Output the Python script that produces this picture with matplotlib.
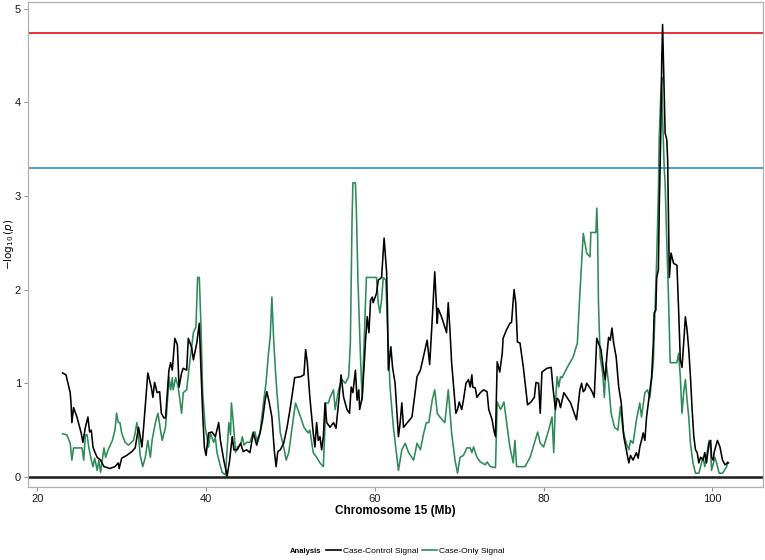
import matplotlib
matplotlib.use("Agg")
import matplotlib.pyplot as plt
from matplotlib.lines import Line2D

plt.rcParams["font.family"] = ["Liberation Sans", "DejaVu Sans"]

# Case-Control signal (black)
cc_mb = [23.0, 23.4, 23.9, 24.0, 24.1, 24.3, 24.7, 25.2, 25.4, 25.7, 26.0, 26.2, 26.4, 26.6, 26.8,
         27.1, 27.5, 27.9, 28.3, 28.6, 29.2, 29.6, 29.7, 30.0, 30.6, 31.2, 31.6, 32.0, 32.2, 32.4,
         32.6, 33.1, 33.5, 33.7, 33.9, 34.2, 34.5, 34.7, 35.0, 35.2, 35.6, 35.8, 36.0, 36.3, 36.6,
         36.8, 37.1, 37.3, 37.7, 37.9, 38.3, 38.5, 38.9, 39.2, 39.4, 39.6, 39.8, 40.0, 40.3, 40.7,
         41.1, 41.5, 41.7, 42.1, 42.5, 42.8, 43.1, 43.3, 43.7, 44.1, 44.4, 44.8, 45.2, 45.6, 46.0,
         46.4, 46.7, 47.0, 47.2, 47.5, 47.8, 48.1, 48.3, 48.5, 48.8, 49.2, 49.6, 50.0, 50.5, 51.2,
         51.6, 51.8, 52.0, 52.3, 52.7, 52.9, 53.1, 53.3, 53.5, 53.7, 53.9, 54.1, 54.3, 54.7, 55.1,
         55.4, 55.7, 56.0, 56.3, 56.7, 57.0, 57.2, 57.4, 57.7, 57.9, 58.1, 58.2, 58.5, 58.7, 58.9,
         59.1, 59.3, 59.5, 59.7, 59.8, 60.2, 60.4, 60.8, 61.1, 61.4, 61.5, 61.6, 61.9, 62.1, 62.4,
         62.8, 63.0, 63.2, 63.4, 64.4, 64.7, 65.0, 65.4, 66.2, 66.5, 66.8, 67.1, 67.4, 67.5, 67.9,
         68.3, 68.5, 68.7, 68.9, 69.1, 69.3, 69.6, 69.8, 70.0, 70.3, 70.5, 70.8, 71.1, 71.3, 71.5,
         71.6, 71.9, 72.1, 72.5, 72.9, 73.3, 73.5, 73.9, 74.1, 74.3, 74.5, 74.8, 75.1, 75.2, 75.6,
         76.0, 76.2, 76.5, 76.7, 76.9, 77.2, 77.6, 78.1, 78.5, 78.9, 79.1, 79.4, 79.6, 79.8, 80.4,
         80.9, 81.1, 81.4, 81.6, 81.8, 82.0, 82.4, 83.2, 83.9, 84.3, 84.5, 84.7, 84.9, 85.1, 85.5,
         85.8, 86.0, 86.3, 86.5, 86.8, 87.1, 87.3, 87.5, 87.7, 87.9, 88.1, 88.3, 88.6, 88.9, 89.2,
         89.5, 89.8, 90.1, 90.3, 90.6, 91.0, 91.2, 91.4, 91.6, 91.8, 92.0, 92.2, 92.8, 93.0, 93.1,
         93.3, 93.4, 93.6, 93.7, 93.9, 94.0, 94.1, 94.2, 94.3, 94.4, 94.6, 94.7, 94.8, 94.9, 95.1,
         95.4, 95.8, 96.0, 96.2, 96.4, 96.6, 96.8, 97.0, 97.2, 97.4, 97.6, 97.8, 98.0, 98.2, 98.4,
         98.6, 98.9, 99.1, 99.3, 99.6, 99.8, 99.9, 100.1, 100.2, 100.6, 100.9, 101.2, 101.5, 101.8,
         101.9]
cc_p = [1.11, 1.09, 0.90, 0.79, 0.58, 0.74, 0.64, 0.47, 0.37, 0.53, 0.64, 0.48, 0.50, 0.32, 0.27,
        0.21, 0.18, 0.11, 0.10, 0.09, 0.11, 0.15, 0.09, 0.20, 0.23, 0.27, 0.31, 0.53, 0.43, 0.32,
        0.53, 1.11, 0.96, 0.85, 1.01, 0.90, 0.91, 0.68, 0.63, 0.63, 1.14, 1.22, 1.14, 1.48, 1.41,
        0.96, 1.11, 1.16, 1.14, 1.48, 1.38, 1.25, 1.43, 1.64, 1.14, 0.68, 0.32, 0.23, 0.47, 0.48,
        0.43, 0.58, 0.39, 0.18, 0.01, 0.18, 0.43, 0.29, 0.29, 0.36, 0.27, 0.29, 0.26, 0.47, 0.34,
        0.47, 0.61, 0.82, 0.91, 0.79, 0.64, 0.27, 0.11, 0.27, 0.29, 0.36, 0.53, 0.75, 1.06, 1.07,
        1.09, 1.36, 1.22, 0.85, 0.47, 0.32, 0.58, 0.39, 0.43, 0.29, 0.43, 0.79, 0.58, 0.53, 0.58,
        0.52, 0.79, 1.09, 0.85, 0.72, 0.68, 0.96, 0.90, 1.14, 0.82, 0.93, 0.72, 0.85, 1.14, 1.46,
        1.71, 1.54, 1.89, 1.92, 1.86, 1.96, 2.10, 2.13, 2.55, 2.18, 1.78, 1.14, 1.39, 1.17, 1.00,
        0.43, 0.58, 0.79, 0.53, 0.64, 0.85, 1.07, 1.14, 1.46, 1.20, 1.68, 2.19, 1.64, 1.80, 1.71,
        1.60, 1.54, 1.86, 1.57, 1.22, 1.00, 0.68, 0.72, 0.80, 0.72, 0.82, 1.00, 1.04, 0.96, 1.09,
        0.96, 0.95, 0.85, 0.90, 0.93, 0.91, 0.72, 0.61, 0.50, 0.43, 1.23, 1.12, 1.32, 1.48, 1.57,
        1.64, 1.65, 2.00, 1.86, 1.44, 1.43, 1.17, 0.77, 0.80, 0.85, 1.01, 1.00, 0.68, 1.12, 1.16,
        1.17, 0.96, 0.72, 0.84, 0.82, 0.74, 0.90, 0.79, 0.61, 0.93, 1.00, 0.91, 0.93, 1.00, 0.95,
        0.90, 0.85, 1.48, 1.43, 1.36, 1.14, 1.04, 1.30, 1.49, 1.46, 1.59, 1.43, 1.28, 0.96, 0.79,
        0.43, 0.29, 0.15, 0.23, 0.18, 0.26, 0.20, 0.32, 0.39, 0.47, 0.39, 0.64, 1.07, 1.43, 1.75,
        1.78, 2.13, 2.21, 2.85, 3.74, 4.45, 4.83, 4.45, 4.10, 3.67, 3.60, 3.38, 2.77, 2.13, 2.39,
        2.28, 2.26, 1.78, 1.25, 1.17, 1.43, 1.71, 1.57, 1.36, 1.07, 0.72, 0.43, 0.29, 0.26, 0.15,
        0.21, 0.18, 0.26, 0.15, 0.36, 0.39, 0.21, 0.18, 0.26, 0.39, 0.32, 0.18, 0.13, 0.15,
        0.15]

# Case-Only signal (green)
co_mb = [23.0, 23.5, 23.9, 24.1, 24.3, 24.7, 25.3, 25.5, 25.7, 25.9, 26.1, 26.4, 26.6, 26.8, 27.1,
         27.3, 27.5, 27.9, 28.1, 28.4, 28.9, 29.2, 29.4, 29.6, 29.8, 30.0, 30.4, 30.8, 31.4, 31.6,
         31.8, 32.0, 32.2, 32.5, 32.8, 33.1, 33.4, 33.6, 34.0, 34.3, 34.6, 34.8, 35.2, 35.5, 35.6,
         35.8, 36.0, 36.1, 36.4, 36.7, 37.1, 37.3, 37.7, 38.1, 38.5, 38.8, 39.0, 39.2, 39.4, 39.6,
         39.9, 40.1, 40.3, 40.5, 40.9, 41.1, 41.3, 41.6, 41.9, 42.3, 42.7, 42.9, 43.0, 43.2, 43.5,
         43.7, 44.1, 44.3, 44.5, 44.8, 45.2, 45.6, 45.8, 46.0, 46.4, 46.8, 47.1, 47.4, 47.6, 47.8,
         48.0, 48.2, 48.4, 48.8, 49.2, 49.5, 49.8, 50.2, 50.6, 51.2, 51.6, 52.1, 52.3, 52.7, 53.1,
         53.5, 53.9, 54.2, 54.5, 54.7, 55.1, 55.3, 55.7, 56.1, 56.5, 56.9, 57.1, 57.3, 57.4, 57.7,
         57.8, 58.0, 58.3, 58.5, 58.7, 59.0, 60.2, 60.4, 60.6, 60.8, 61.0, 61.3, 61.5, 61.8, 62.2,
         62.8, 63.2, 63.6, 64.0, 64.6, 65.0, 65.4, 65.8, 66.1, 66.4, 66.8, 67.1, 67.4, 67.7, 68.3,
         68.7, 69.1, 69.5, 69.8, 70.1, 70.5, 70.9, 71.3, 71.5, 71.7, 72.1, 72.5, 73.1, 73.3, 73.7,
         74.3, 74.5, 74.9, 75.3, 75.7, 76.0, 76.4, 76.6, 76.8, 77.2, 77.8, 78.4, 79.0, 79.3, 79.6,
         80.0, 80.6, 81.0, 81.2, 81.4, 81.6, 81.8, 82.0, 82.2, 82.8, 83.5, 84.0, 84.3, 84.7, 85.1,
         85.5, 85.6, 86.2, 86.3, 86.4, 86.5, 86.7, 87.0, 87.2, 87.4, 87.7, 88.0, 88.4, 88.8, 89.1,
         89.4, 89.8, 90.1, 90.3, 90.6, 91.0, 91.4, 91.6, 92.0, 92.3, 92.6, 93.0, 93.2, 93.4, 93.6,
         93.7, 93.9, 94.0, 94.1, 94.3, 94.4, 94.6, 94.8, 95.0, 95.8, 96.0, 96.2, 96.4, 96.6, 96.8,
         97.0, 97.2, 97.4, 97.7, 98.0, 98.4, 98.6, 98.9, 99.1, 99.3, 99.6, 99.8, 99.9, 100.3, 100.5,
         100.8, 101.2, 101.7, 101.8]
co_p = [0.46, 0.45, 0.36, 0.18, 0.31, 0.31, 0.31, 0.18, 0.45, 0.45, 0.32, 0.18, 0.11, 0.20, 0.07,
        0.18, 0.05, 0.31, 0.21, 0.29, 0.39, 0.50, 0.68, 0.58, 0.58, 0.47, 0.37, 0.34, 0.39, 0.47,
        0.58, 0.43, 0.23, 0.11, 0.21, 0.39, 0.21, 0.39, 0.58, 0.68, 0.50, 0.39, 0.53, 0.90, 1.07,
        0.93, 1.06, 0.93, 1.06, 0.96, 0.68, 0.90, 0.93, 1.25, 1.54, 1.60, 2.13, 2.13, 1.60, 0.90,
        0.53, 0.43, 0.32, 0.47, 0.37, 0.42, 0.26, 0.15, 0.05, 0.02, 0.58, 0.45, 0.79, 0.61, 0.26,
        0.32, 0.34, 0.43, 0.34, 0.37, 0.37, 0.48, 0.48, 0.39, 0.47, 0.79, 1.00, 1.32, 1.49, 1.92,
        1.49, 1.17, 0.90, 0.47, 0.32, 0.18, 0.26, 0.53, 0.79, 0.64, 0.53, 0.47, 0.50, 0.26, 0.21,
        0.15, 0.11, 0.79, 0.79, 0.85, 0.93, 0.72, 0.93, 1.04, 1.00, 1.07, 1.43, 2.74, 3.14, 3.14,
        2.88, 2.10, 1.28, 0.82, 1.36, 2.13, 2.13, 1.86, 1.75, 1.89, 2.13, 2.10, 1.60, 0.96, 0.53,
        0.07, 0.29, 0.36, 0.26, 0.18, 0.36, 0.29, 0.47, 0.58, 0.58, 0.82, 0.93, 0.68, 0.64, 0.58,
        0.93, 0.47, 0.18, 0.04, 0.21, 0.23, 0.31, 0.31, 0.26, 0.32, 0.21, 0.16, 0.13, 0.16, 0.11,
        0.10, 0.80, 0.72, 0.80, 0.53, 0.32, 0.15, 0.39, 0.11, 0.11, 0.11, 0.21, 0.39, 0.48, 0.36,
        0.32, 0.50, 0.64, 0.26, 0.79, 1.07, 0.96, 1.07, 1.06, 1.17, 1.28, 1.43, 1.96, 2.60, 2.39,
        2.35, 2.61, 2.61, 2.87, 2.60, 1.86, 1.28, 1.11, 0.85, 1.22, 1.00, 0.68, 0.53, 0.50, 0.75,
        0.50, 0.36, 0.29, 0.39, 0.36, 0.61, 0.79, 0.64, 0.90, 0.93, 0.85, 1.22, 1.78, 2.32, 3.03,
        3.63, 4.10, 4.27, 3.84, 3.28, 3.14, 2.50, 1.92, 1.22, 1.22, 1.32, 1.07, 0.68, 0.90, 1.04,
        0.82, 0.64, 0.36, 0.15, 0.04, 0.04, 0.11, 0.21, 0.11, 0.21, 0.39, 0.29, 0.07, 0.21, 0.15,
        0.04, 0.04, 0.11, 0.16]

genome_wide = 4.74
suggestive = 3.30

fig = plt.figure(figsize=(7.65, 5.6), dpi=100)
ax = fig.add_axes([0.0366, 0.1304, 0.9608, 0.866])

ax.axhline(genome_wide, color="#e8202a", lw=1.3, zorder=1)
ax.axhline(suggestive, color="#3b9ad9", lw=1.3, zorder=1)
ax.axhline(0, color="#1a1a1a", lw=1.8, zorder=1)
ax.plot(cc_mb, cc_p, color="black", lw=1.15, zorder=3)
ax.plot(co_mb, co_p, color="#2e8b57", lw=1.15, zorder=2)

ax.set_xlim(18.9, 106.0)
ax.set_ylim(-0.107, 5.07)
ax.set_xticks([20, 40, 60, 80, 100])
ax.set_yticks([0, 1, 2, 3, 4, 5])
ax.tick_params(labelsize=8, length=3, width=0.6, color="#7f7f7f", labelcolor="#1a1a1a", pad=2)
for s in ax.spines.values():
    s.set_color("#b0b0b0")
    s.set_linewidth(0.9)

ax.set_xlabel("Chromosome 15 (Mb)", fontsize=8.5, fontweight="bold", labelpad=1)
ax.set_ylabel(r"$-\log_{10}(p)$", fontsize=7.5)
ax.yaxis.set_label_coords(-0.017, 0.5)

fig.text(0.379, 0.0155, "Analysis", fontsize=5.5, fontweight="bold", ha="left", va="center")
handles = [Line2D([], [], color="black", lw=1.2), Line2D([], [], color="#2e8b57", lw=1.2)]
fig.legend(handles, ["Case-Control Signal", "Case-Only Signal"], loc="center left",
           bbox_to_anchor=(0.426, 0.0155), ncol=2, frameon=False, fontsize=6.0,
           handlelength=1.8, handletextpad=0.3, columnspacing=0.35, borderpad=0, borderaxespad=0)

fig.savefig("out.png", dpi=100)
